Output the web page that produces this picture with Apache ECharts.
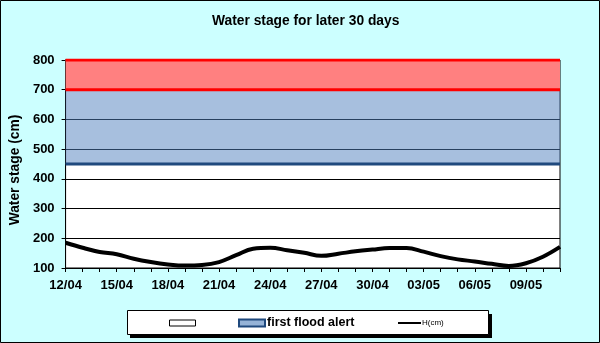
<!DOCTYPE html>
<html>
<head>
<meta charset="utf-8">
<script src="https://cdn.jsdelivr.net/npm/echarts@6/dist/echarts.min.js"></script>
<style>
html,body{margin:0;padding:0;background:#CCFFFF;}
#c{width:600px;height:343px;}
</style>
</head>
<body>
<div id="c"></div>
<script>
const categories = ['12/04','13/04','14/04','15/04','16/04','17/04','18/04','19/04','20/04','21/04',
  '22/04','23/04','24/04','25/04','26/04','27/04','28/04','29/04','30/04','01/05',
  '02/05','03/05','04/05','05/05','06/05','07/05','08/05','09/05','10/05','11/05'];
const waterStage = [185,168,154,146,131,120,112,108,110,120,143,165,168,160,151,141,148,156,162,167,167,155,140,129,122,114,107,116,138,171];
const levels = [450, 700, 800]; // first flood alert lower bound, upper bound, chart top
const yTicks = [100, 800, 100]; // min, max, interval

const baseBand = categories.map(() => levels[0]);
const alertBand = categories.map(() => levels[1] - levels[0]);
const dangerBand = categories.map(() => levels[2] - levels[1]);

const FONT = 'Liberation Sans, Arial, sans-serif';
const chart = echarts.init(document.getElementById('c'), null, {renderer: 'canvas'});
chart.setOption({
  backgroundColor: '#CCFFFF',
  animation: false,
  title: {
    text: 'Water stage for later 30 days',
    left: 212, top: 14, padding: 0,
    textStyle: {fontFamily: FONT, fontSize: 13.8, fontWeight: 'bold', color: '#000'}
  },
  graphic: [
    {type: 'rect', z: 0, shape: {x: 0.5, y: 0.5, width: 599, height: 342}, style: {fill: 'none', stroke: '#000', lineWidth: 1}},
    {type: 'rect', z: 1, shape: {x: 130, y: 314, width: 362, height: 24}, style: {fill: '#000'}},
    {type: 'rect', z: 2, shape: {x: 127.5, y: 310.5, width: 361, height: 24}, style: {fill: '#fff', stroke: '#000', lineWidth: 1}}
  ],
  legend: [
    {
      z: 10, left: 169, top: 316, padding: 0, selectedMode: false,
      itemWidth: 26, itemHeight: 6,
      textStyle: {fontFamily: FONT, fontSize: 12, lineHeight: 14},
      data: [{name: ' ', icon: 'rect', itemStyle: {color: '#fff', borderColor: '#000', borderWidth: 1}}]
    },
    {
      z: 10, left: 238, top: 316, padding: 0, selectedMode: false,
      itemWidth: 26, itemHeight: 7,
      textStyle: {fontFamily: FONT, fontSize: 12.5, fontWeight: 'bold', color: '#000', lineHeight: 14, padding: [0,0,0,-3]},
      data: [{name: 'first flood alert', icon: 'rect', itemStyle: {color: '#95B3D7', borderColor: '#1F497D', borderWidth: 2}}]
    },
    {
      z: 10, left: 398, top: 316, padding: 0, selectedMode: false,
      itemWidth: 23, itemHeight: 2,
      textStyle: {fontFamily: FONT, fontSize: 8, color: '#000', lineHeight: 14, padding: [0,0,0,-4]},
      data: [{name: 'H(cm)', icon: 'rect', itemStyle: {color: '#000', borderWidth: 0}}]
    }
  ],
  grid: {
    left: 64, right: 40, top: 60, bottom: 75,
    show: true, backgroundColor: '#fff', borderColor: '#000', borderWidth: 1
  },
  xAxis: {
    type: 'category', data: categories, boundaryGap: false,
    axisLine: {lineStyle: {color: '#000', width: 1}},
    axisTick: {show: true, interval: 0, length: 4, lineStyle: {color: '#000'}},
    axisLabel: {interval: 2, margin: 11, fontFamily: FONT, fontSize: 13, fontWeight: 'bold', color: '#000'},
    splitLine: {show: false}
  },
  yAxis: {
    type: 'value', min: yTicks[0], max: yTicks[1], interval: yTicks[2],
    name: 'Water stage (cm)', nameLocation: 'middle', nameGap: 41,
    nameTextStyle: {fontFamily: FONT, fontSize: 13.8, fontWeight: 'bold', color: '#000', padding: [0, 12, 0, 0]},
    axisLine: {show: true, lineStyle: {color: '#000', width: 1}},
    axisTick: {show: true, length: 4, lineStyle: {color: '#000'}},
    axisLabel: {margin: 11, fontFamily: FONT, fontSize: 13, fontWeight: 'bold', color: '#000'},
    splitLine: {show: true, lineStyle: {color: '#000', width: 1}}
  },
  series: [
    {
      name: ' ', type: 'line', stack: 'band', data: baseBand, symbol: 'none', silent: true,
      lineStyle: {color: '#1F497D', width: 3},
      itemStyle: {color: '#fff'},
      areaStyle: {opacity: 0}
    },
    {
      name: 'first flood alert', type: 'line', stack: 'band', data: alertBand, symbol: 'none', silent: true,
      lineStyle: {color: '#FF0000', width: 3},
      itemStyle: {color: '#95B3D7'},
      areaStyle: {color: 'rgba(79,127,189,0.5)', opacity: 1}
    },
    {
      name: 'danger', type: 'line', stack: 'band', data: dangerBand, symbol: 'none', silent: true,
      lineStyle: {color: '#FF0000', width: 3},
      itemStyle: {color: '#FF8080'},
      areaStyle: {color: '#FF8080', opacity: 1}
    },
    {
      name: 'H(cm)', type: 'line', data: waterStage, symbol: 'none', smooth: 0.4, z: 5,
      lineStyle: {color: '#000', width: 4},
      itemStyle: {color: '#000'}
    }
  ]
});
</script>
</body>
</html>
